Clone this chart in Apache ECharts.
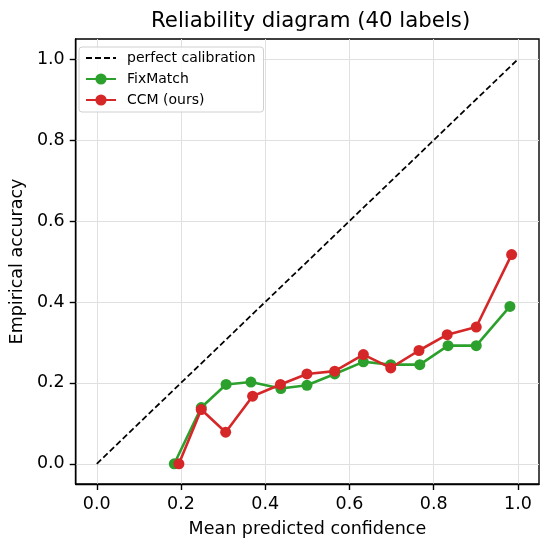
<!DOCTYPE html>
<html>
<head>
<meta charset="utf-8">
<script src="https://cdn.jsdelivr.net/npm/echarts@6/dist/echarts.min.js"></script>
<style>html,body{margin:0;padding:0;background:#fff}#c{width:550px;height:544px}</style>
</head>
<body>
<div id="c"></div>
<script>
var tickValues = [0, 0.2, 0.4, 0.6, 0.8, 1.0];
var perfectX = [0, 1];
var perfectY = [0, 1];
var fixmatchConf = [0.184, 0.248, 0.307, 0.366, 0.437, 0.499, 0.565, 0.633, 0.698, 0.767, 0.834, 0.901, 0.981];
var fixmatchAcc  = [0.000, 0.139, 0.196, 0.202, 0.186, 0.194, 0.222, 0.252, 0.245, 0.245, 0.292, 0.292, 0.389];
var ccmConf = [0.195, 0.248, 0.306, 0.370, 0.436, 0.499, 0.565, 0.633, 0.698, 0.765, 0.832, 0.901, 0.985];
var ccmAcc  = [0.000, 0.134, 0.078, 0.167, 0.196, 0.222, 0.229, 0.270, 0.237, 0.280, 0.319, 0.338, 0.517];

function pairs(xs, ys) { return xs.map(function (x, i) { return [x, ys[i]]; }); }

var FONT = 'DejaVu Sans';
var chart = echarts.init(document.getElementById('c'), null, {renderer: 'canvas'});

function axisCommon(name) {
  return {
    type: 'value', min: -0.05, max: 1.05,
    name: name, nameLocation: 'middle',
    nameTextStyle: {fontFamily: FONT, fontSize: 17.5, color: '#000'},
    axisLine: {show: true, onZero: false, lineStyle: {color: '#000', width: 1.4}},
    axisTick: {show: true, inside: false, length: 6, customValues: tickValues, lineStyle: {color: '#000', width: 1.4}},
    axisLabel: {customValues: tickValues, fontFamily: FONT, fontSize: 17.5, color: '#000', margin: 11,
      formatter: function (v) { return v.toFixed(1); }},
    splitLine: {show: true, lineStyle: {color: '#e0e0e0', width: 1}}
  };
}

var xa = axisCommon('Mean predicted confidence');
xa.nameGap = 36;
var ya = axisCommon('Empirical accuracy');
ya.nameGap = 46;

chart.setOption({
  animation: false,
  backgroundColor: '#fff',
  title: {text: 'Reliability diagram (40 labels)', left: 146, top: 6,
    textStyle: {fontFamily: FONT, fontSize: 21.3, fontWeight: 'normal', color: '#000'}},
  grid: {left: 72, right: 11, top: 39, bottom: 60, show: true, borderColor: '#000', borderWidth: 1.4, backgroundColor: 'transparent'},
  legend: {
    orient: 'vertical', left: 79, top: 47,
    padding: [4, 8, 5, 6], itemGap: 7, itemWidth: 30, itemHeight: 14,
    backgroundColor: 'rgba(255,255,255,0.85)', borderColor: '#d0d0d0', borderWidth: 1, borderRadius: 3,
    textStyle: {fontFamily: FONT, fontSize: 14, color: '#000', padding: [0, 0, 0, 6]},
    data: [
      {name: 'perfect calibration', itemStyle: {color: 'rgba(0,0,0,0)', borderWidth: 0, opacity: 0}},
      'FixMatch', 'CCM (ours)'
    ]
  },
  xAxis: xa,
  yAxis: ya,
  series: [
    {name: 'perfect calibration', type: 'line', data: pairs(perfectX, perfectY), symbol: 'none',
      lineStyle: {color: '#000', width: 1.75, type: [6, 3]}, itemStyle: {color: '#000'}, z: 3},
    {name: 'FixMatch', type: 'line', data: pairs(fixmatchConf, fixmatchAcc), symbol: 'circle', symbolSize: 11,
      lineStyle: {color: '#2ca02c', width: 2.6}, itemStyle: {color: '#2ca02c'}, z: 4},
    {name: 'CCM (ours)', type: 'line', data: pairs(ccmConf, ccmAcc), symbol: 'circle', symbolSize: 11,
      lineStyle: {color: '#d62728', width: 2.6}, itemStyle: {color: '#d62728'}, z: 5}
  ]
});
</script>
</body>
</html>
